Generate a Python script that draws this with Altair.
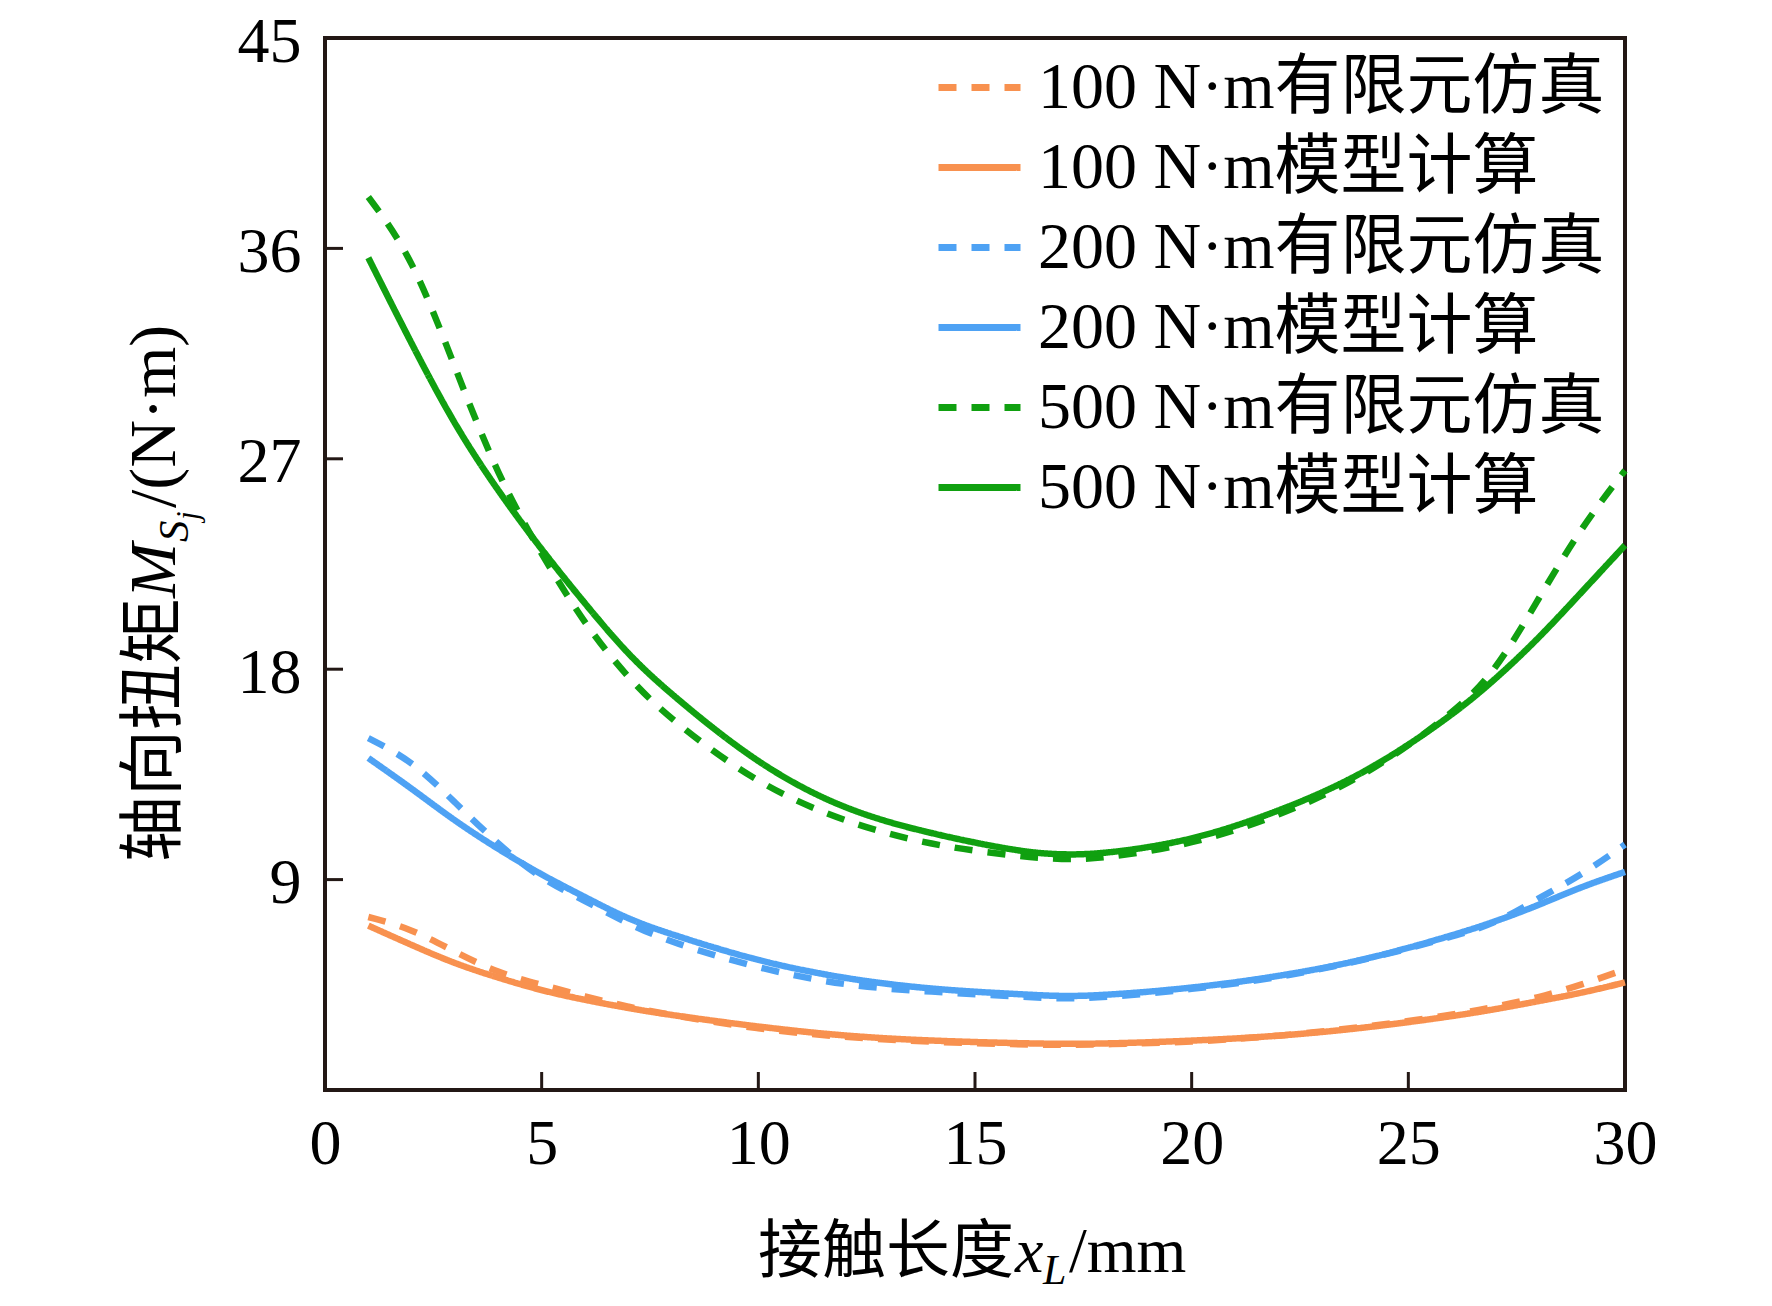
import altair as alt
import pandas as pd

# contact length (mm) at which the curves were read
x_mm = [1, 2, 3, 4, 5, 6, 7, 8, 10, 12, 14, 16, 17, 18, 20, 22, 24, 26, 27, 28, 29, 30]

fe_100 = [7.4, 6.9, 5.9, 5.0, 4.5, 4.0, 3.55, 3.2, 2.6, 2.25, 2.05, 1.95, 1.93, 1.95,
          2.05, 2.3, 2.7, 3.2, 3.55, 3.95, 4.5, 5.16]
model_100 = [7.03, 6.2, 5.4, 4.8, 4.25, 3.85, 3.5, 3.2, 2.7, 2.3, 2.1, 2.0, 1.97, 1.98,
             2.1, 2.3, 2.65, 3.15, 3.45, 3.8, 4.15, 4.6]
fe_200 = [15.05, 14.1, 12.3, 10.5, 9.0, 8.1, 7.1, 6.3, 5.2, 4.45, 4.2, 4.0, 3.9, 3.95,
          4.3, 4.8, 5.55, 6.55, 7.1, 8.2, 9.2, 10.5]
model_200 = [14.2, 12.9, 11.5, 10.3, 9.2, 8.25, 7.3, 6.65, 5.5, 4.75, 4.3, 4.1, 4.0, 4.05,
             4.35, 4.85, 5.55, 6.6, 7.2, 7.9, 8.7, 9.33]
fe_500 = [38.2, 35.7, 30.9, 26.2, 22.9, 19.9, 17.6, 15.8, 13.05, 11.45, 10.45, 10.0, 9.85, 9.9,
          10.5, 11.7, 13.4, 16.05, 17.85, 21.0, 24.1, 26.5]
model_500 = [35.6, 31.9, 28.4, 25.6, 23.1, 20.8, 18.6, 16.9, 13.9, 11.95, 10.95, 10.2, 10.05, 10.1,
             10.65, 11.9, 13.5, 16.0, 17.55, 19.3, 21.3, 23.3]

series_names = ["100 N·m有限元仿真", "100 N·m模型计算",
                "200 N·m有限元仿真", "200 N·m模型计算",
                "500 N·m有限元仿真", "500 N·m模型计算"]
series_values = [fe_100, model_100, fe_200, model_200, fe_500, model_500]
colors = ["#F8914F", "#F8914F", "#4EA2F4", "#4EA2F4", "#10A010", "#10A010"]
dashes = [[18, 15], [1, 0], [18, 15], [1, 0], [18, 15], [1, 0]]

x_ticks = [0, 5, 10, 15, 20, 25, 30]
y_ticks = [9, 18, 27, 36, 45]

rows = []
for name, vals in zip(series_names, series_values):
    for xv, yv in zip(x_mm, vals):
        rows.append({"x": xv, "y": yv, "series": name})
df = pd.DataFrame(rows)

W, H = 1300, 1052
SERIF = "Liberation Serif, Noto Sans CJK SC"

xscale = alt.Scale(domain=[0, 30], nice=False)
yscale = alt.Scale(domain=[0, 45], nice=False)

lines = alt.Chart(df).mark_line(strokeWidth=6.5, interpolate="basis").encode(
    x=alt.X("x:Q", scale=xscale,
            axis=alt.Axis(values=x_ticks, title=None, labelPadding=22, labelFlush=False)),
    y=alt.Y("y:Q", scale=yscale,
            axis=alt.Axis(values=y_ticks, title=None, labelPadding=24, labelFlush=False,
                          labelOffset=4)),
    color=alt.Color("series:N", sort=series_names,
                    scale=alt.Scale(domain=series_names, range=colors),
                    legend=alt.Legend(title=None, orient="none", legendX=610, legendY=5,
                                      symbolType="stroke", symbolSize=6724,
                                      symbolStrokeWidth=7, labelFontSize=66,
                                      labelFont=SERIF, labelOffset=14, labelLimit=900,
                                      rowPadding=2, padding=0)),
    strokeDash=alt.StrokeDash("series:N", sort=series_names,
                              scale=alt.Scale(domain=series_names, range=dashes),
                              legend=alt.Legend(title=None)),
    detail="series:N",
)

# inward ticks
yt = alt.Chart(pd.DataFrame({"v": y_ticks[:-1]})).mark_rule(
    color="#231815", strokeWidth=3).encode(
    y=alt.Y("v:Q", scale=yscale), x=alt.value(0), x2=alt.value(18))
xt = alt.Chart(pd.DataFrame({"v": x_ticks[1:-1]})).mark_rule(
    color="#231815", strokeWidth=3).encode(
    x=alt.X("v:Q", scale=xscale), y=alt.value(H), y2=alt.value(H - 18))

one = pd.DataFrame({"a": [0]})


def label(text, x, y, size=64, italic=False, angle=0):
    kw = dict(text=text, font=SERIF, fontSize=size, align="left",
              baseline="alphabetic", color="black")
    if italic:
        kw["fontStyle"] = "italic"
    if angle:
        kw["angle"] = angle
    return alt.Chart(one).mark_text(**kw).encode(x=alt.value(x), y=alt.value(y))


# x axis title: 接触长度 x_L /mm
xb = 1234
xtitle = [
    label("接触长度", 433, xb),
    label("x", 690, xb, italic=True),
    label("L", 718, xb + 12, size=42, italic=True),
    label("/mm", 744, xb),
]

# y axis title (rotated): 轴向扭矩 M_Sj /(N·m)
yb = -150
ytitle = [
    label("轴向扭矩", yb, 824, size=66, angle=270),
    label("M", yb, 560, size=66, italic=True, angle=270),
    label("S", yb + 13, 504, size=43, italic=True, angle=270),
    label("j", yb + 23, 482, size=31, italic=True, angle=270),
    label("/(N·m)", yb, 470, size=66, angle=270),
]

chart = alt.layer(lines, yt, xt, *xtitle, *ytitle).properties(
    width=W, height=H,
    autosize=alt.AutoSizeParams(type="none"),
    padding={"left": 317, "top": 30, "right": 139, "bottom": 208},
).configure_view(
    stroke="#231815", strokeWidth=4
).configure_axis(
    domain=False, ticks=False, grid=False,
    labelFont="Liberation Serif", labelFontSize=64, labelColor="black",
    labelOverlap=False,
).configure_legend(
    symbolType="stroke"
)

chart.save("out.html", embed_options={"renderer": "svg", "actions": False})
